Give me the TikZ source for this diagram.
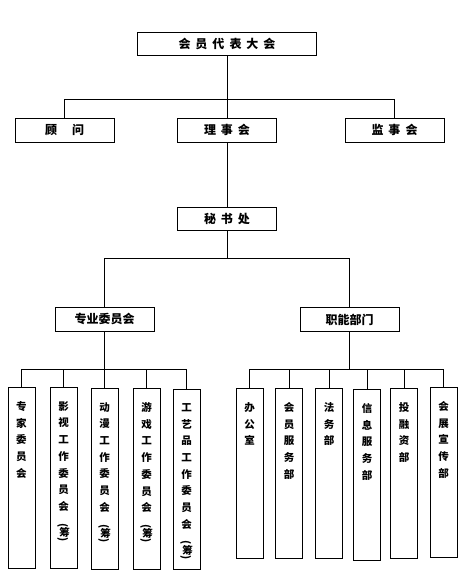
\documentclass[tikz,border=0pt]{standalone}
\usepackage{fontspec}
\usepackage{graphicx}
\newfontfamily\cjk{Noto Sans CJK SC}
\newcommand{\zgap}{\hspace{5pt}}
\newcommand{\chou}{\rotatebox{-90}{(\rotatebox{90}{筹})}}

\begin{document}
\begin{tikzpicture}[x=1pt,y=-1pt,line width=0.8pt]
		\useasboundingbox (0,0) rectangle (468,575);

		% top levels
		\begin{scope}[every node/.style={rectangle,draw,inner sep=0pt,minimum width=99pt,minimum height=24pt,font=\cjk\bfseries\fontsize{12}{14}\selectfont}]
			\node[minimum width=179pt,minimum height=23pt] (dahui) at (227,43.5) {会\zgap 员\zgap 代\zgap 表\zgap 大\zgap 会};

			\node (guwen) at (64.5,130) {顾\hspace{15pt}问};
			\node (lishi) at (227,130) {理\zgap 事\zgap 会};
			\node (jianshi) at (394.5,130) {监\zgap 事\zgap 会};

			\node[minimum height=23pt] (mishu) at (227,218.5) {秘\zgap 书\zgap 处};

			\node (zhuanye) at (104.5,319) {专业委员会};
			\node (zhineng) at (349.5,319.5) {职能部门};
		\end{scope}

		% columns
		\begin{scope}[every node/.style={rectangle,draw,inner sep=0pt,minimum width=27pt,anchor=north}]
			\node[minimum height=181pt] (zj) at (21.5,387) {};
			\node[minimum height=181pt] (ys) at (63.5,387) {};
			\node[minimum height=181pt] (dm) at (104.5,388) {};
			\node[minimum height=181pt] (yx) at (146.5,388) {};
			\node[minimum height=180pt] (gy) at (186.5,389) {};

			\node[minimum height=170pt] (bgs) at (249.5,388) {};
			\node[minimum height=170pt] (hyfw) at (289,388) {};
			\node[minimum height=170pt] (fw) at (329,388) {};
			\node[minimum height=171pt] (xxfw) at (367,389) {};
			\node[minimum height=170pt] (trz) at (404,388) {};
			\node[minimum height=170pt] (hzxc) at (443.5,387) {};
		\end{scope}

		\begin{scope}[every node/.style={anchor=north,inner sep=0pt,align=center,yshift=-14pt,font=\cjk\bfseries\fontsize{10.5}{16.7}\selectfont}]
			\node (zj-t) at (zj.north) {专\\家\\委\\员\\会};
			\node (ys-t) at (ys.north) {影\\视\\工\\作\\委\\员\\会\\[-4pt]\chou};
			\node (dm-t) at (dm.north) {动\\漫\\工\\作\\委\\员\\会\\[-4pt]\chou};
			\node (yx-t) at (yx.north) {游\\戏\\工\\作\\委\\员\\会\\[-4pt]\chou};
			\node (gy-t) at (gy.north) {工\\艺\\品\\工\\作\\委\\员\\会\\[-4pt]\chou};

			\node (bgs-t) at (bgs.north) {办\\公\\室};
			\node (hyfw-t) at (hyfw.north) {会\\员\\服\\务\\部};
			\node (fw-t) at (fw.north) {法\\务\\部};
			\node (xxfw-t) at (xxfw.north) {信\\息\\服\\务\\部};
			\node (trz-t) at (trz.north) {投\\融\\资\\部};
			\node (hzxc-t) at (hzxc.north) {会\\展\\宣\\传\\部};
		\end{scope}

		\coordinate (bus1) at (0,99);
		\coordinate (bus2) at (0,258);
		\coordinate (bus3) at (0,369);

		\draw (dahui.south) -- (lishi.north);
		\draw (guwen.north) -- (guwen.north |- bus1) -- (jianshi.north |- bus1) -- (jianshi.north);
		\draw (lishi.south) -- (mishu.north);

		\draw (mishu.south) -- (mishu.south |- bus2);
		\draw (zhuanye.north) -- (zhuanye.north |- bus2) -- (zhineng.north |- bus2) -- (zhineng.north);

		\draw (zhuanye.south) -- (zhuanye.south |- bus3);
		\draw (zj.north) -- (zj.north |- bus3) -- (gy.north |- bus3) -- (gy.north);
		\draw (ys.north) -- (ys.north |- bus3);
		\draw (dm.north) -- (dm.north |- bus3);
		\draw (yx.north) -- (yx.north |- bus3);

		\draw (zhineng.south) -- (zhineng.south |- bus3);
		\draw (bgs.north) -- (bgs.north |- bus3) -- (hzxc.north |- bus3) -- (hzxc.north);
		\draw (hyfw.north) -- (hyfw.north |- bus3);
		\draw (fw.north) -- (fw.north |- bus3);
		\draw (xxfw.north) -- (xxfw.north |- bus3);
		\draw (trz.north) -- (trz.north |- bus3);
	\end{tikzpicture}
\end{document}
